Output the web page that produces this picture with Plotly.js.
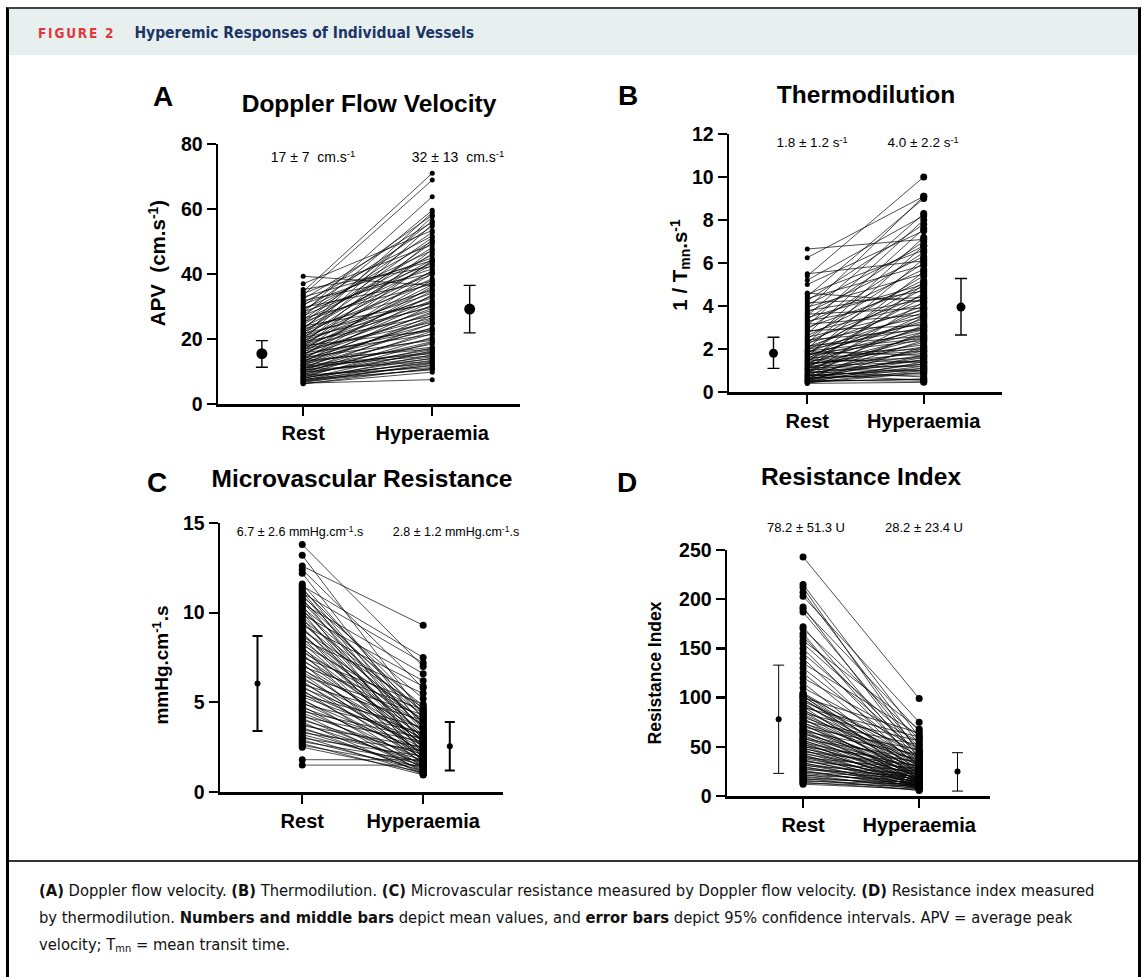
<!DOCTYPE html>
<html>
<head>
<meta charset="utf-8">
<script src="https://cdn.plot.ly/plotly-3.0.1.min.js"></script>
<style>
  html, body { margin:0; padding:0; background:#fff; }
  #page { position:relative; width:1142px; height:977px; overflow:hidden; background:#fff; }
  #frame { position:absolute; left:6px; top:7px; width:1129px; height:975px;
           border-left:3px solid #000; border-right:3px solid #000; border-top:2px solid #444; }
  #header { position:absolute; left:9px; top:9px; width:1129px; height:46px; background:#e8f0ef; }
  #htext { position:absolute; left:38px; top:23px; font-family:"DejaVu Sans Condensed","Liberation Sans Narrow","Noto Sans",sans-serif; font-stretch:condensed; font-weight:bold; white-space:nowrap; }
  #fig2 { color:#e2373a; font-size:13.5px; letter-spacing:1.8px; margin-right:19px; }
  #htitle { color:#1c3566; font-size:15.5px; }
  #sep { position:absolute; left:9px; top:860px; width:1129px; height:2px; background:#333; }
  #caption { position:absolute; left:39px; top:877px; font-family:"DejaVu Sans Condensed","Liberation Sans Narrow","Noto Sans",sans-serif; font-stretch:condensed; font-size:16.4px; line-height:27px; color:#111; white-space:nowrap; }
  #caption sub { font-size:11px; vertical-align:-2px; line-height:0; }
  #plot { position:absolute; left:0; top:0; width:1142px; height:977px; }
  .lbl { position:absolute; font-family:"Liberation Sans", Arial, Helvetica, sans-serif; color:#000; white-space:nowrap; line-height:1; transform:translate(-50%,-50%); }
  .lbl.rot { transform:translate(-50%,-50%) rotate(-90deg); }
  .lbl.b { font-weight:bold; }
  .lbl sup { font-size:0.68em; vertical-align:0.5em; line-height:0; }
  .lbl sub { font-size:0.68em; vertical-align:-0.25em; line-height:0; }
</style>
</head>
<body>
<div id="page">
  <div id="frame"></div>
  <div id="header"></div>
  <div id="htext"><span id="fig2">FIGURE 2</span><span id="htitle">Hyperemic Responses of Individual Vessels</span></div>
  <div id="sep"></div>
  <div id="caption"><b>(A)</b> Doppler flow velocity. <b>(B)</b> Thermodilution. <b>(C)</b> Microvascular resistance measured by Doppler flow velocity. <b>(D)</b> Resistance index measured<br>by thermodilution. <b>Numbers and middle bars</b> depict mean values, and <b>error bars</b> depict 95% confidence intervals. APV = average peak<br>velocity; T<sub>mn</sub> = mean transit time.</div>
  <div id="plot"></div>
  <div id="labels"></div>
</div>
<script>
// ---------------- DATA ----------------
const categories = ['Rest', 'Hyperaemia'];

// Panel A: Doppler flow velocity (APV, cm/s), paired rest / hyperaemia
const restA = [6.2,6.4,6.6,6.9,7.1,7.3,7.6,7.8,8.0,8.3,
  8.5,8.7,9.0,9.2,9.5,9.7,10.0,10.2,10.4,10.7,
  10.9,11.1,11.4,11.6,11.9,12.1,12.3,12.6,12.8,13.0,
  13.2,13.5,13.7,13.9,14.1,14.3,14.6,14.8,15.0,15.2,
  15.5,15.7,15.9,16.1,16.4,16.6,16.8,17.0,17.3,17.5,
  17.7,17.9,18.2,18.4,18.6,18.8,19.1,19.3,19.5,19.8,
  20.0,20.3,20.5,20.8,21.0,21.3,21.6,21.9,22.2,22.5,
  22.8,23.1,23.4,23.7,24.0,24.4,24.8,25.2,25.6,26.0,
  26.4,26.8,27.2,27.6,28.0,28.4,28.8,29.2,29.7,30.2,
  30.7,31.2,31.8,32.3,32.9,33.5,34.0,34.6,35.2,37.0,39.3,
  6.3,7.0,7.5,8.1,8.9,9.8,10.5,11.0,12.0,13.4];
const hypA = [11.0,7.5,12.5,10.8,13.5,15.2,11.8,16.4,14.1,18.9,
  12.6,17.3,20.5,15.8,22.4,13.9,19.2,24.8,16.7,21.6,
  27.3,18.4,23.5,14.8,26.2,30.4,20.1,25.7,33.6,17.5,
  28.4,22.8,36.2,24.6,31.5,19.6,27.9,40.3,23.2,34.8,
  29.4,21.4,38.1,26.5,44.2,31.9,25.1,36.7,28.8,47.5,
  33.2,22.6,41.0,30.2,50.4,35.5,27.1,43.8,32.7,55.2,
  38.6,29.8,46.3,34.1,57.6,40.9,31.3,49.6,37.4,44.5,
  58.9,35.0,51.2,42.7,30.9,48.1,56.3,39.8,45.9,52.8,
  36.9,59.6,43.3,50.1,63.8,41.6,54.7,47.2,37.8,58.1,
  45.0,51.7,40.2,55.9,44.1,68.9,49.0,71.0,42.3,53.4,36.5,
  9.8,12.0,10.5,12.9,11.2,14.5,13.1,16.0,15.5,16.9];
const meanA = [15.5, 29.2], loA = [11.3, 21.9], hiA = [19.5, 36.5];
const statsA = ['17 ± 7&nbsp; cm.s<sup>-1</sup>', '32 ± 13&nbsp; cm.s<sup>-1</sup>'];

// Panel B: Thermodilution (1/Tmn, s^-1)
const restB = [0.40,0.42,0.45,0.48,0.50,0.52,0.55,0.58,0.60,0.63,
  0.66,0.70,0.72,0.75,0.78,0.82,0.85,0.88,0.92,0.95,
  1.00,1.03,1.07,1.10,1.14,1.18,1.22,1.26,1.30,1.34,
  1.38,1.42,1.46,1.50,1.55,1.60,1.65,1.70,1.75,1.80,
  1.85,1.90,1.95,2.00,2.05,2.10,2.15,2.20,2.25,2.30,
  2.36,2.42,2.48,2.55,2.62,2.70,2.78,2.85,2.92,3.00,
  3.08,3.15,3.22,3.30,3.38,3.46,3.54,3.62,3.70,3.78,
  3.86,3.95,4.05,4.15,4.25,4.35,4.45,4.55,4.60,5.00,
  5.20,5.40,5.50,6.25,6.65,
  0.44,0.50,0.56,0.62,0.68,0.74,0.80,0.90,0.98,1.05,
  1.12,1.20,1.28,1.36,1.48,1.58,1.68,1.78,1.88,1.98];
const hypB = [0.45,0.9,1.4,0.6,2.1,1.1,0.5,1.7,2.8,1.3,
  0.8,2.4,3.5,1.6,1.0,2.0,4.2,1.5,2.7,0.7,
  3.1,1.9,5.0,2.3,1.2,3.6,2.6,4.6,1.8,3.0,
  5.6,2.2,3.9,1.4,4.4,2.9,6.2,3.3,2.0,5.1,
  3.7,2.5,4.8,6.8,3.2,4.0,2.6,5.4,7.2,3.5,
  4.5,2.9,6.0,3.8,5.2,7.6,4.1,3.1,6.5,4.9,
  8.0,3.6,5.7,4.3,7.0,5.0,8.3,3.9,6.3,4.7,
  9.1,5.5,6.8,4.4,7.8,5.9,9.0,6.6,4.2,7.5,
  8.2,10.0,6.1,9.1,7.1,
  1.0,0.6,1.2,0.9,1.5,1.1,0.55,1.3,1.7,1.0,
  2.5,1.4,2.1,1.6,2.8,1.9,3.4,2.4,1.7,3.0];
const meanB = [1.8, 3.95], loB = [1.1, 2.65], hiB = [2.55, 5.28];
const statsB = ['1.8 ± 1.2 s<sup>-1</sup>', '4.0 ± 2.2 s<sup>-1</sup>'];

// Panel C: Microvascular resistance (mmHg.cm^-1.s)
const restC = [1.5,1.8,2.5,2.6,2.7,2.8,2.9,3.0,3.1,3.2,
  3.3,3.4,3.5,3.6,3.7,3.8,3.9,4.0,4.1,4.2,
  4.3,4.4,4.5,4.6,4.7,4.8,4.9,5.0,5.1,5.2,
  5.3,5.4,5.5,5.6,5.7,5.8,5.9,6.0,6.1,6.2,
  6.3,6.4,6.5,6.6,6.7,6.8,6.9,7.0,7.1,7.2,
  7.3,7.4,7.5,7.6,7.7,7.8,7.9,8.0,8.1,8.2,
  8.3,8.4,8.5,8.6,8.7,8.8,8.9,9.0,9.1,9.2,
  9.3,9.4,9.5,9.6,9.7,9.8,9.9,10.0,10.1,10.2,
  10.3,10.4,10.5,10.6,10.7,10.8,10.9,11.0,11.1,11.2,
  11.3,11.4,11.5,11.6,12.2,12.4,12.6,13.2,13.8];
const hypC = [1.5,1.8,1.1,1.4,0.95,1.7,1.2,2.0,1.0,1.5,
  2.3,1.3,1.8,1.1,2.5,1.6,1.0,2.1,1.4,2.8,
  1.2,1.9,3.0,1.5,2.4,1.1,3.3,1.7,2.2,1.3,
  2.9,3.6,1.9,2.6,1.4,3.2,2.0,4.0,2.4,1.6,
  3.0,2.2,4.3,1.8,2.7,3.5,2.1,4.6,2.9,1.5,
  3.8,2.5,4.9,3.1,2.0,4.1,2.8,3.4,1.7,4.4,
  2.6,3.7,5.5,2.3,4.0,3.0,1.9,4.7,3.3,2.5,
  5.9,3.9,2.8,4.5,1.6,3.6,6.2,2.4,4.2,3.1,
  4.8,2.1,6.6,3.5,4.4,2.7,5.2,3.8,7.2,2.9,
  4.6,3.3,7.5,4.1,3.6,5.8,9.3,4.3,7.0];
const meanC = [6.05, 2.55], loC = [3.4, 1.2], hiC = [8.7, 3.9];
const statsC = ['6.7 ± 2.6 mmHg.cm<sup>-1</sup>.s', '2.8 ± 1.2 mmHg.cm<sup>-1</sup>.s'];

// Panel D: Resistance index (U)
const restD = [12,13,14,15,16,17,18,19,20,21,
  22,23,24,25,26,27,28,29,30,31,
  32,33,34,35,36,37,38,39,40,41,
  42,43,44,45,46,47,48,49,50,51,
  52,53,54,55,56,57,58,59,60,62,
  63,64,65,66,67,68,69,70,72,73,
  74,75,76,78,79,80,82,83,84,86,
  87,88,90,91,92,94,95,96,98,99,
  100,101,102,103,104,105,110,115,120,125,
  130,135,140,145,150,155,158,162,165,170,
  172,187,190,192,203,207,212,215,243];
const hypD = [7,10,6,12,8,14,5.5,11,9,16,
  7,13,18,10,8,20,12,15,9,22,
  11,17,7.5,25,14,10,19,28,12,16,
  8.5,23,13,31,18,10,26,15,35,12,
  21,17,30,9,24,14,38,19,27,11,
  33,16,22,42,13,29,20,47,24,15,
  36,18,52,27,12,40,21,31,56,17,
  34,25,60,14,38,28,19,45,33,22,
  64,30,16,41,26,35,48,22,55,30,
  38,62,27,44,33,50,68,40,29,58,
  35,46,66,38,75,52,43,60,99];
const meanD = [78, 25], loD = [23, 5], hiD = [133, 44];
const statsD = ['78.2 ± 51.3 U', '28.2 ± 23.4 U'];

const titles = ['Doppler Flow Velocity', 'Thermodilution', 'Microvascular Resistance', 'Resistance Index'];
const letters = ['A', 'B', 'C', 'D'];
const yTitles = ['APV&nbsp; (cm.s<sup>-1</sup>)', '1 / T<sub>mn</sub>.s<sup>-1</sup>', 'mmHg.cm<sup>-1</sup>.s', 'Resistance Index'];

// ---------------- LAYOUT / STYLE ----------------
const W = 1142, H = 977;
const X = p => p / W, Y = p => 1 - p / H;
const FONT = '"Liberation Sans", Arial, Helvetica, sans-serif';

const panels = [
  {rest: restA, hyp: hypA, mean: meanA, lo: loA, hi: hiA, stats: statsA,
   px: [218, 520], py: [404, 144], xr: [0.34, 2.68], yr: [0, 80], yt: [0,20,40,60,80],
   meanX: [0.68, 2.29], ms: [5, 5], meanSize: 11, errThick: 1.4, errW: 6,
   letter: [163, 97], title: [369, 104], statPos: [[313, 157], [458, 157]], statSize: 14,
   ytPos: [158, 263], ytSize: 20.5},
  {rest: restB, hyp: hypB, mean: meanB, lo: loB, hi: hiB, stats: statsB,
   px: [729, 1002], py: [392, 134], xr: [0.328, 2.672], yr: [0, 12], yt: [0,2,4,6,8,10,12],
   meanX: [0.71, 2.32], ms: [5, 7], meanSize: 9, errThick: 1.4, errW: 6,
   letter: [628, 96], title: [866, 95], statPos: [[812, 143], [923, 143]], statSize: 13.5,
   ytPos: [680, 265], ytSize: 20.5},
  {rest: restC, hyp: hypC, mean: meanC, lo: loC, hi: hiC, stats: statsC,
   px: [220, 503], py: [792, 523], xr: [0.32, 2.66], yr: [0, 15], yt: [0,5,10,15],
   meanX: [0.63, 2.22], ms: [7, 7], meanSize: 6, errThick: 2, errW: 5,
   letter: [157, 483], title: [362, 479], statPos: [[300, 532], [456, 532]], statSize: 12.5,
   ytPos: [161, 665], ytSize: 19},
  {rest: restD, hyp: hypD, mean: meanD, lo: loD, hi: hiD, stats: statsD,
   px: [727, 990], py: [796, 550], xr: [0.345, 2.61], yr: [0, 250], yt: [0,50,100,150,200,250],
   meanX: [0.79, 2.33], ms: [7, 7], meanSize: 6, errThick: 1, errW: 5.5,
   letter: [627, 483], title: [861, 477], statPos: [[806, 527], [924, 527]], statSize: 13,
   ytPos: [656, 673], ytSize: 17.5}
];

const traces = [];
const layout = {
  width: W, height: H,
  margin: {l: 0, r: 0, t: 0, b: 0},
  paper_bgcolor: 'rgba(0,0,0,0)', plot_bgcolor: 'rgba(0,0,0,0)',
  showlegend: false,
  font: {family: FONT, color: '#000'}
};

const labelsDiv = document.getElementById('labels');
function addLabel(html, x, y, size, bold, rot) {
  const d = document.createElement('div');
  d.className = 'lbl' + (bold ? ' b' : '') + (rot ? ' rot' : '');
  d.style.left = x + 'px';
  d.style.top = y + 'px';
  d.style.fontSize = size + 'px';
  d.innerHTML = html;
  labelsDiv.appendChild(d);
}

panels.forEach((p, i) => {
  const n = i + 1, sx = n === 1 ? '' : String(n);
  const xa = 'x' + sx, ya = 'y' + sx;
  // connecting lines
  const lx = [], ly = [];
  p.rest.forEach((r, k) => { lx.push(1, 2, null); ly.push(r, p.hyp[k], null); });
  traces.push({type: 'scatter', mode: 'lines', x: lx, y: ly, xaxis: xa, yaxis: ya,
    line: {color: '#000', width: 0.7}, hoverinfo: 'skip', cliponaxis: false});
  // points
  traces.push({type: 'scatter', mode: 'markers', x: p.rest.map(() => 1), y: p.rest, xaxis: xa, yaxis: ya,
    marker: {color: '#000', size: p.ms[0]}, cliponaxis: false});
  traces.push({type: 'scatter', mode: 'markers', x: p.hyp.map(() => 2), y: p.hyp, xaxis: xa, yaxis: ya,
    marker: {color: '#000', size: p.ms[1]}, cliponaxis: false});
  // mean with 95% CI
  traces.push({type: 'scatter', mode: 'markers', x: p.meanX, y: p.mean, xaxis: xa, yaxis: ya,
    marker: {color: '#000', size: p.meanSize},
    error_y: {type: 'data', symmetric: false,
      array: p.hi.map((h, k) => h - p.mean[k]),
      arrayminus: p.lo.map((l, k) => p.mean[k] - l),
      color: '#000', thickness: p.errThick, width: p.errW},
    cliponaxis: false});

  layout['xaxis' + sx] = {
    domain: [X(p.px[0]), X(p.px[1])], range: p.xr, anchor: ya,
    showline: true, linecolor: '#000', linewidth: 2.5,
    ticks: 'outside', ticklen: 9, tickwidth: 2.2, tickcolor: '#000',
    tickvals: [1, 2], ticktext: categories,
    tickfont: {family: FONT, size: 20, weight: 'bold', color: '#000'},
    showgrid: false, zeroline: false, fixedrange: true
  };
  layout['yaxis' + sx] = {
    domain: [Y(p.py[0]), Y(p.py[1])], range: p.yr, anchor: xa,
    showline: true, linecolor: '#000', linewidth: 2.5,
    ticks: 'outside', ticklen: 9, tickwidth: 2.2, tickcolor: '#000',
    tickvals: p.yt, ticktext: p.yt.map(String),
    tickfont: {family: FONT, size: 19.5, weight: 'bold', color: '#000'},
    showgrid: false, zeroline: false, fixedrange: true
  };

  addLabel(letters[i], p.letter[0], p.letter[1], 28, true, false);
  addLabel(titles[i], p.title[0], p.title[1], 24.5, true, false);
  p.stats.forEach((s, k) => addLabel(s, p.statPos[k][0], p.statPos[k][1], p.statSize, false, false));
  addLabel(yTitles[i], p.ytPos[0], p.ytPos[1], p.ytSize, true, true);
});

Plotly.newPlot('plot', traces, layout, {staticPlot: true, displayModeBar: false});
</script>
</body>
</html>
